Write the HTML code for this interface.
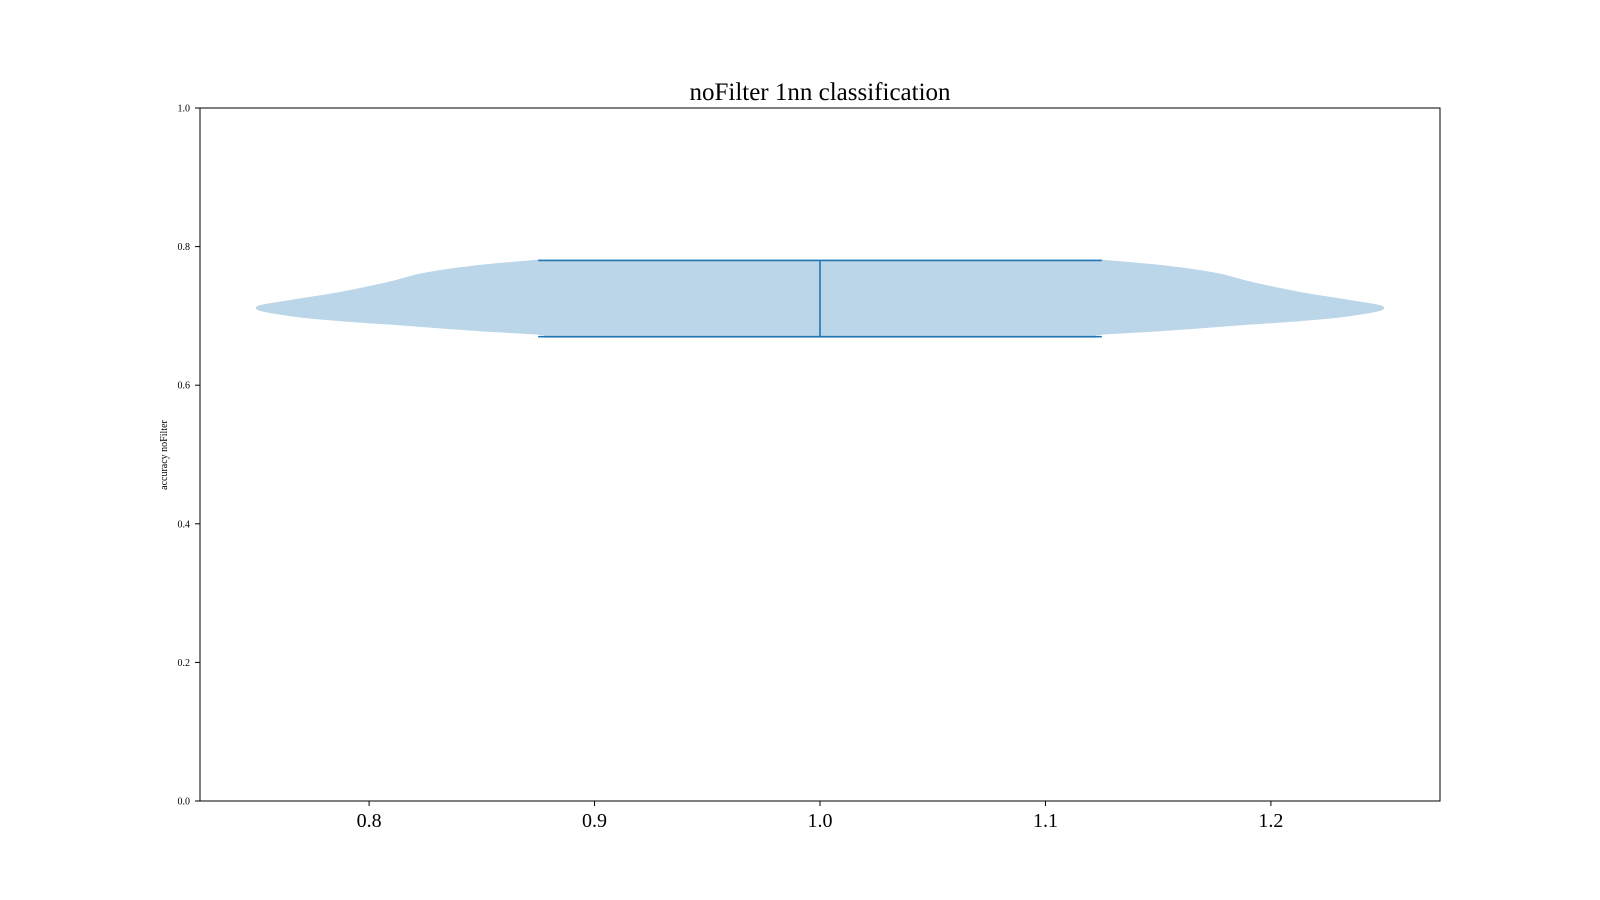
<!DOCTYPE html>
<html><head><meta charset="utf-8"><style>
html,body{margin:0;padding:0;background:#fff;}
svg{display:block;font-family:"Liberation Serif",serif;}
</style></head><body>
<svg id="chart" width="1600" height="900" xmlns="http://www.w3.org/2000/svg">
<text x="820" y="100" text-anchor="middle" font-size="25">noFilter 1nn classification</text>
<g id="plot"></g>
<text transform="translate(167,455) rotate(-90)" text-anchor="middle" font-size="10">accuracy noFilter</text>
</svg>
<script>
const xTicks = [0.8, 0.9, 1.0, 1.1, 1.2];
const xTickLabels = ["0.8", "0.9", "1.0", "1.1", "1.2"];
const yTicks = [0.0, 0.2, 0.4, 0.6, 0.8, 1.0];
const yTickLabels = ["0.0", "0.2", "0.4", "0.6", "0.8", "1.0"];
const violinPosition = 1.0;
const violinMin = 0.670;
const violinMax = 0.780;
const violinMedianBarHalf = 0.125;
const profileY = [0.780, 0.771, 0.7605, 0.748, 0.733, 0.7215, 0.7114, 0.701, 0.694, 0.687, 0.680, 0.674, 0.670];
const profileHalfWidth = [0.124, 0.154, 0.176, 0.191, 0.213, 0.235, 0.2499, 0.235, 0.213, 0.183, 0.154, 0.124, 0.122];

const L=200,R=1440,T=108,B=801;
const xMin=0.725,xMax=1.275,yMin=0,yMax=1;
const sx=v=>L+(v-xMin)/(xMax-xMin)*(R-L);
const sy=v=>B-(v-yMin)/(yMax-yMin)*(B-T);
const NS="http://www.w3.org/2000/svg";
const g=document.getElementById('plot');
function mk(tag,attrs){const e=document.createElementNS(NS,tag);for(const k in attrs)e.setAttribute(k,attrs[k]);g.appendChild(e);return e;}

function smooth(pts){
  let d="";
  for(let i=0;i<pts.length-1;i++){
    const p0=pts[Math.max(0,i-1)],p1=pts[i],p2=pts[i+1],p3=pts[Math.min(pts.length-1,i+2)];
    const c1=[p1[0]+(p2[0]-p0[0])/6,p1[1]+(p2[1]-p0[1])/6];
    const c2=[p2[0]-(p3[0]-p1[0])/6,p2[1]-(p3[1]-p1[1])/6];
    d+=" C"+c1[0].toFixed(1)+","+c1[1].toFixed(1)+" "+c2[0].toFixed(1)+","+c2[1].toFixed(1)+" "+p2[0].toFixed(1)+","+p2[1].toFixed(1);
  }
  return d;
}
const left=profileY.map((y,i)=>[sx(violinPosition-profileHalfWidth[i]),sy(y)]);
const right=profileY.map((y,i)=>[sx(violinPosition+profileHalfWidth[i]),sy(y)]).reverse();
let d="M"+left[0][0].toFixed(1)+","+left[0][1].toFixed(1)+smooth(left)+" L"+right[0][0].toFixed(1)+","+right[0][1].toFixed(1)+smooth(right)+" Z";
const body=mk('path',{d:d,fill:'rgb(187,214,233)',stroke:'rgb(187,214,233)','stroke-width':2,'stroke-linejoin':'round'});



const c='#1f77b4';
const maxBar=mk('line',{x1:sx(violinPosition-violinMedianBarHalf),x2:sx(violinPosition+violinMedianBarHalf),y1:sy(violinMax),y2:sy(violinMax),stroke:c,'stroke-width':1.6});


const minBar=mk('line',{x1:sx(violinPosition-violinMedianBarHalf),x2:sx(violinPosition+violinMedianBarHalf),y1:sy(violinMin),y2:sy(violinMin),stroke:c,'stroke-width':1.6});


const vbar=mk('line',{x1:sx(violinPosition),x2:sx(violinPosition),y1:sy(violinMax),y2:sy(violinMin),stroke:c,'stroke-width':1.6});



const frame=mk('rect',{x:L,y:T,width:R-L,height:B-T,fill:'none',stroke:'#000','stroke-width':1});



xTicks.forEach((v,i)=>{
  const t=mk('line',{x1:sx(v),x2:sx(v),y1:B,y2:B+5,stroke:'#000','stroke-width':1});
  
  
  const tx=mk('text',{x:sx(v),y:B+26,'text-anchor':'middle','font-size':20});
  tx.textContent=xTickLabels[i];
  
  
});
yTicks.forEach((v,i)=>{
  const t=mk('line',{x1:L-5,x2:L,y1:sy(v),y2:sy(v),stroke:'#000','stroke-width':1});
  
  
  const tx=mk('text',{x:L-10,y:sy(v)+3.5,'text-anchor':'end','font-size':10});
  tx.textContent=yTickLabels[i];
  
  
});
</script>
</body></html>
